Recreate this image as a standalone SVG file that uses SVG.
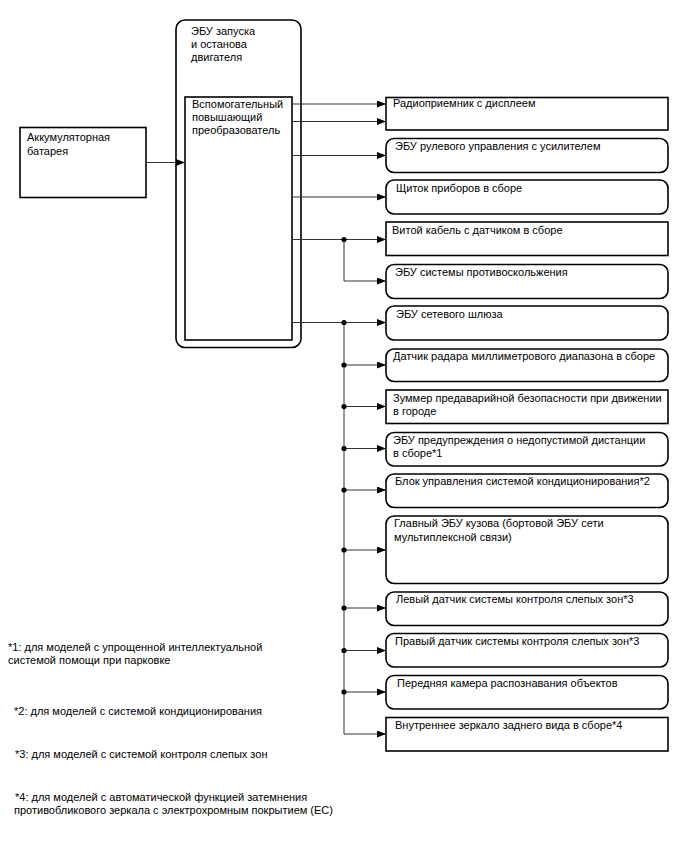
<svg xmlns="http://www.w3.org/2000/svg" width="688" height="852" viewBox="0 0 688 852">
<style>
text{font-family:"Liberation Sans",Arial,sans-serif;font-size:11px;fill:#000}
.box{fill:#fff;stroke:#000;stroke-width:1.6}
.ln{fill:none;stroke:#333;stroke-width:1}
.dot{fill:#000}
</style>
<defs>
<marker id="ah" markerWidth="9" markerHeight="7" refX="9" refY="3.5" orient="auto" markerUnits="userSpaceOnUse">
<path d="M0,0 L9,3.5 L0,7 Z" fill="#000"/>
</marker>
</defs>
<rect width="688" height="852" fill="#fff"/>

<g id="battery"><rect class="box" x="20" y="127.5" width="126" height="70"/><text x="27" y="141">Аккумуляторная</text><text x="27" y="155">батарея</text></g>

<g id="ecu-start-stop"><rect class="box" x="176" y="20" width="125" height="327.5" rx="9"/><text x="191" y="35">ЭБУ запуска</text><text x="191" y="48">и останова</text><text x="191" y="61">двигателя</text></g>

<g id="converter"><rect class="box" x="185" y="97" width="107" height="243"/><text x="192" y="108">Вспомогательный</text><text x="192" y="121">повышающий</text><text x="192" y="134">преобразователь</text></g>

<g id="radio"><rect class="box" x="386" y="97.5" width="282" height="32.5"/><text x="393" y="107">Радиоприемник с дисплеем</text></g>
<g id="eps"><rect class="box" x="386" y="138.5" width="282" height="34" rx="8"/><text x="395" y="150">ЭБУ рулевого управления с усилителем</text></g>
<g id="meter"><rect class="box" x="386" y="180" width="282" height="34" rx="8"/><text x="396" y="192">Щиток приборов в сборе</text></g>
<g id="spiral"><rect class="box" x="386" y="222" width="282" height="33.5"/><text x="392" y="234">Витой кабель с датчиком в сборе</text></g>
<g id="skid"><rect class="box" x="386" y="264.5" width="282" height="34" rx="8"/><text x="395" y="276">ЭБУ системы противоскольжения</text></g>
<g id="gateway"><rect class="box" x="386" y="306" width="282" height="34" rx="8"/><text x="396" y="318">ЭБУ сетевого шлюза</text></g>
<g id="radar"><rect class="box" x="386" y="349" width="282" height="32.5" rx="8"/><text x="393" y="360">Датчик радара миллиметрового диапазона в сборе</text></g>
<g id="buzzer"><rect class="box" x="386" y="390" width="282" height="33.5"/><text x="393" y="402">Зуммер предаварийной безопасности при движении</text><text x="393" y="415">в городе</text></g>
<g id="clearance"><rect class="box" x="386" y="432.5" width="282" height="33.5" rx="8"/><text x="393" y="444">ЭБУ предупреждения о недопустимой дистанции</text><text x="393" y="457">в сборе*1</text></g>
<g id="aircon"><rect class="box" x="386" y="474" width="282" height="33.5" rx="8"/><text x="395" y="485">Блок управления системой кондиционирования*2</text></g>
<g id="main-body"><rect class="box" x="386" y="516" width="282" height="67.5" rx="8"/><text x="394" y="527">Главный ЭБУ кузова (бортовой ЭБУ сети</text><text x="394" y="541">мультиплексной связи)</text></g>
<g id="bsm-left"><rect class="box" x="386" y="592" width="282" height="33.5" rx="8"/><text x="396" y="603">Левый датчик системы контроля слепых зон*3</text></g>
<g id="bsm-right"><rect class="box" x="386" y="633.5" width="282" height="33.5" rx="8"/><text x="395" y="645">Правый датчик системы контроля слепых зон*3</text></g>
<g id="camera"><rect class="box" x="386" y="675.5" width="282" height="33.5" rx="8"/><text x="397" y="687">Передняя камера распознавания объектов</text></g>
<g id="mirror"><rect class="box" x="386" y="717.5" width="282" height="33.5"/><text x="395" y="729">Внутреннее зеркало заднего вида в сборе*4</text></g>

<g id="connectors">
<path class="ln" d="M146,162.5 H185" marker-end="url(#ah)"/>
<path class="ln" d="M292,104 H386" marker-end="url(#ah)"/>
<path class="ln" d="M292,121.5 H386" marker-end="url(#ah)"/>
<path class="ln" d="M292,155.5 H386" marker-end="url(#ah)"/>
<path class="ln" d="M292,197 H386" marker-end="url(#ah)"/>
<path class="ln" d="M292,239.5 H386" marker-end="url(#ah)"/>
<path class="ln" d="M344,239.5 V281 H386" marker-end="url(#ah)"/>
<path class="ln" d="M292,322.5 H386" marker-end="url(#ah)"/>
<path class="ln" d="M344,322.5 V734 H386" marker-end="url(#ah)"/>
<path class="ln" d="M344,365 H386" marker-end="url(#ah)"/>
<path class="ln" d="M344,406.5 H386" marker-end="url(#ah)"/>
<path class="ln" d="M344,448.5 H386" marker-end="url(#ah)"/>
<path class="ln" d="M344,490 H386" marker-end="url(#ah)"/>
<path class="ln" d="M344,550 H386" marker-end="url(#ah)"/>
<path class="ln" d="M344,608 H386" marker-end="url(#ah)"/>
<path class="ln" d="M344,650.5 H386" marker-end="url(#ah)"/>
<path class="ln" d="M344,692 H386" marker-end="url(#ah)"/>
<circle class="dot" cx="344" cy="239.5" r="2.6"/>
<circle class="dot" cx="344" cy="322.5" r="2.6"/>
<circle class="dot" cx="344" cy="365" r="2.6"/>
<circle class="dot" cx="344" cy="406.5" r="2.6"/>
<circle class="dot" cx="344" cy="448.5" r="2.6"/>
<circle class="dot" cx="344" cy="490" r="2.6"/>
<circle class="dot" cx="344" cy="550" r="2.6"/>
<circle class="dot" cx="344" cy="608" r="2.6"/>
<circle class="dot" cx="344" cy="650.5" r="2.6"/>
<circle class="dot" cx="344" cy="692" r="2.6"/>
</g>

<g id="notes">
<text x="8" y="651">*1: для моделей с упрощенной интеллектуальной</text>
<text x="8" y="664">системой помощи при парковке</text>
<text x="14" y="715">*2: для моделей с системой кондиционирования</text>
<text x="15" y="758">*3: для моделей с системой контроля слепых зон</text>
<text x="15" y="801">*4: для моделей с автоматической функцией затемнения</text>
<text x="14" y="814">противобликового зеркала с электрохромным покрытием (EC)</text>
</g>
</svg>
